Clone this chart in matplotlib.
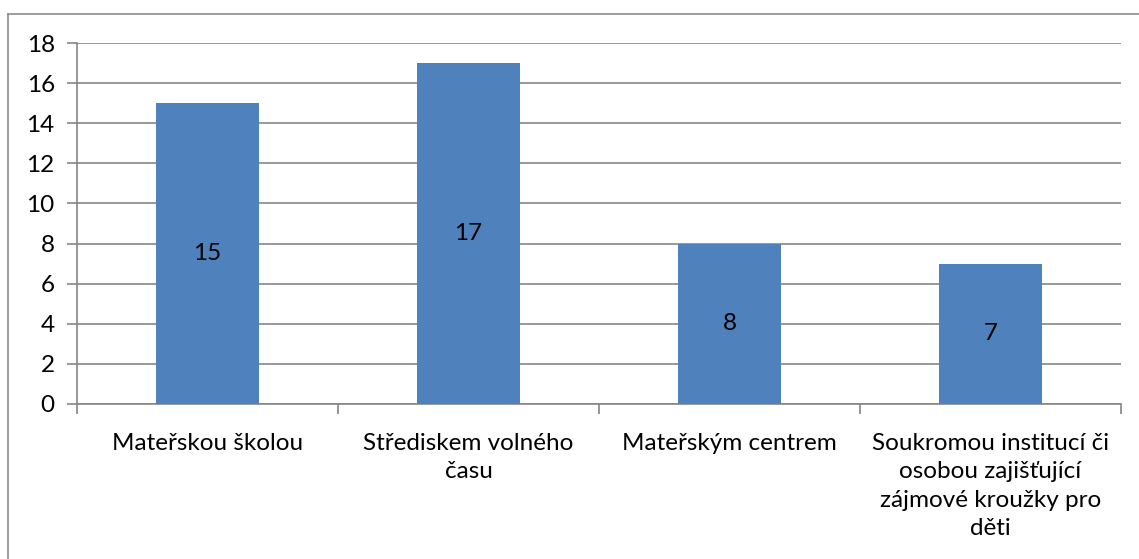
import numpy as np
import matplotlib
matplotlib.use("Agg")
from matplotlib import pyplot as plt
from matplotlib.lines import Line2D

categories = [
    "Mateřskou školou",
    "Střediskem volného\nčasu",
    "Mateřským centrem",
    "Soukromou institucí či\nosobou zajišťující\nzájmové kroužky pro\nděti",
]
values = [15, 17, 8, 7]
yticks = [0, 2, 4, 6, 8, 10, 12, 14, 16, 18]

plt.rcParams['font.family'] = ['Lato', 'DejaVu Sans']
fs = 17.5

W, H = 1139, 559
fig = plt.figure(figsize=(W / 100, H / 100), dpi=100)
ax = fig.add_axes([77 / W, 1 - 404 / H, (1121 - 77) / W, (404 - 43) / H])

gray = '#868686'
x = np.arange(len(values))
bars = ax.bar(x, values, width=0.395, color='#4F81BD', zorder=3)
for b, v in zip(bars, values):
    ax.text(b.get_x() + b.get_width() / 2, v / 2, str(v), ha='center', va='center',
            fontsize=fs, color='black', zorder=4)

ax.set_xlim(-0.5, len(values) - 0.5)
ax.set_ylim(0, 18)
ax.set_yticks(yticks)
ax.yaxis.grid(True, color=gray, linewidth=1.2, zorder=0)
ax.tick_params(axis='y', length=7, width=1.2, color=gray, labelsize=fs, pad=9)

ax.set_xticks(x)
ax.set_xticklabels(categories, fontsize=fs, linespacing=1.43, multialignment='center')
ax.tick_params(axis='x', length=0, pad=21)
ax.set_xticks(np.arange(-0.5, len(values)), minor=True)
ax.tick_params(axis='x', which='minor', length=7, width=1.2, color=gray)

for s in ['top', 'right']:
    ax.spines[s].set_visible(False)
for s in ['left', 'bottom']:
    ax.spines[s].set_color(gray)
    ax.spines[s].set_linewidth(1.2)

# chart area border (top and left visible)
fig.add_artist(Line2D([8 / W, 8 / W], [0, 1 - 14 / H], color='#8c8c8c', linewidth=1.2, transform=fig.transFigure))
fig.add_artist(Line2D([8 / W, 1], [1 - 14 / H, 1 - 14 / H], color='#8c8c8c', linewidth=1.2, transform=fig.transFigure))

fig.savefig("out.png", dpi=100)
